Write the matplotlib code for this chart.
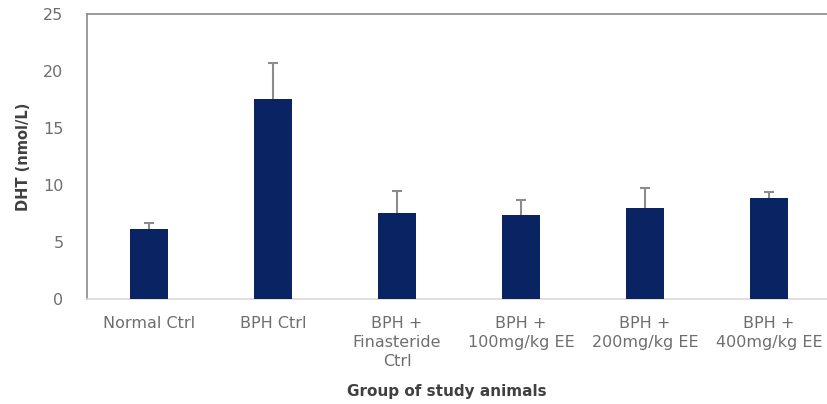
import matplotlib.pyplot as plt
import numpy as np

groups = ["Normal Ctrl", "BPH Ctrl", "BPH +\nFinasteride\nCtrl",
          "BPH +\n100mg/kg EE", "BPH +\n200mg/kg EE", "BPH +\n400mg/kg EE"]
dht = [6.15, 17.5, 7.5, 7.35, 8.0, 8.9]
err_up = [0.55, 3.2, 1.95, 1.3, 1.7, 0.45]

fig = plt.figure(figsize=(8.27, 4.04), dpi=100)
ax = fig.add_axes([0.1052, 0.26, 0.8996, 0.7054])

x = np.arange(len(groups))
ax.bar(x, dht, width=0.31, color="#0a2463", zorder=3)
# upper-only error bars
_, caps, _ = ax.errorbar(x, dht, yerr=[np.zeros(len(dht)), err_up], fmt="none",
                         ecolor="#8c8c8c", elinewidth=1.5, capsize=3.5,
                         capthick=1.5, zorder=2)
caps[0].set_visible(False)  # lower cap sits on the bar top

ax.set_xlim(-0.5, len(groups) - 0.5)
ax.set_ylim(0, 25)
ax.set_yticks([0, 5, 10, 15, 20, 25])
ax.set_xticks(x)
ax.set_xticklabels(groups, linespacing=1.36)
ax.tick_params(axis="both", length=0, colors="#6e6e6e", labelsize=11.5)
ax.tick_params(axis="y", pad=17)
ax.tick_params(axis="x", pad=12)

ax.spines["right"].set_visible(False)
ax.spines["left"].set_color("#8a8a8a")
ax.spines["top"].set_color("#8a8a8a")
ax.spines["bottom"].set_color("#d9d9d9")
for s in ("left", "top", "bottom"):
    ax.spines[s].set_linewidth(1.2)

ax.set_ylabel("DHT (nmol/L)", fontsize=10.5, fontweight="bold", color="#404040", labelpad=9)
fig.text(0.54, 0.03, "Group of study animals", fontsize=11, fontweight="bold",
         color="#404040", ha="center", va="center")

fig.savefig("out.png", dpi=100)
